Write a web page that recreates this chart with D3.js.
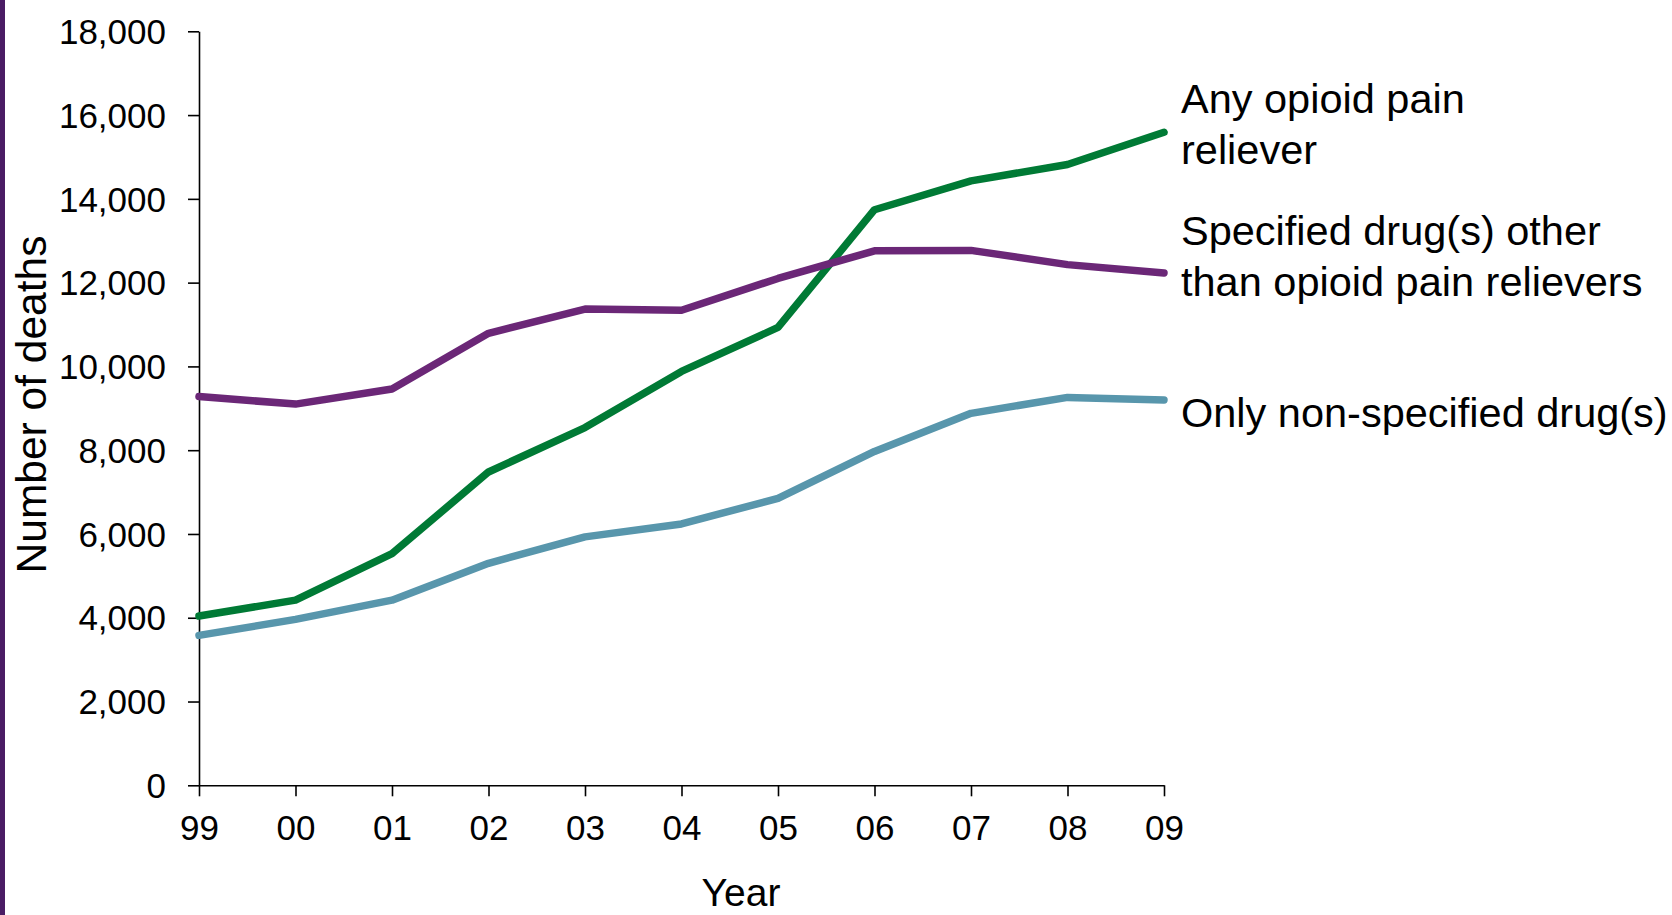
<!DOCTYPE html>
<html>
<head>
<meta charset="utf-8">
<script src="https://cdn.jsdelivr.net/npm/d3@7"></script>
<style>
  html, body { margin: 0; padding: 0; background: #fff; }
  svg { display: block; font-family: "Liberation Sans", Arial, sans-serif; }
</style>
</head>
<body>
<svg id="chart" width="1672" height="915"></svg>
<script>
// Drug overdose deaths by drug type, 1999–2009
const yearLabels = ["99", "00", "01", "02", "03", "04", "05", "06", "07", "08", "09"];
const opioidPainReliever = [4040, 4420, 5530, 7480, 8540, 9880, 10930, 13740, 14430, 14820, 15590];
const otherSpecifiedDrugs = [9280, 9100, 9460, 10790, 11370, 11340, 12100, 12760, 12770, 12430, 12230];
const nonSpecifiedOnly = [3580, 3960, 4420, 5300, 5930, 6240, 6850, 7970, 8880, 9260, 9200];
const yTicks = [0, 2000, 4000, 6000, 8000, 10000, 12000, 14000, 16000, 18000];

const seriesNames = [
  ["Any opioid pain", "reliever"],
  ["Specified drug(s) other", "than opioid pain relievers"],
  ["Only non-specified drug(s)"]
];
const seriesValues = [opioidPainReliever, otherSpecifiedDrugs, nonSpecifiedOnly];
const seriesColors = ["#007a35", "#6b2777", "#5896ac"];

const svg = d3.select("#chart");

// accent bar down the left edge
svg.append("rect").attr("x", 0).attr("y", 0).attr("width", 5).attr("height", 915)
  .attr("fill", "#4a1c64");

const x = d3.scalePoint().domain(yearLabels).range([199, 1164]);
const y = d3.scaleLinear().domain([0, 18000]).range([785.3, 31.3]);

// y axis
const yAxis = svg.append("g").attr("transform", "translate(199,0)")
  .call(d3.axisLeft(y).tickValues(yTicks).tickSize(11).tickSizeOuter(0)
    .tickFormat(d3.format(",")));
yAxis.select(".domain").attr("stroke", "#000").attr("stroke-width", 1.6);
yAxis.selectAll(".tick line").attr("stroke", "#000").attr("stroke-width", 1.6);
yAxis.selectAll(".tick text").attr("x", -33).attr("dy", "0.35em")
  .attr("font-size", 35).attr("fill", "#000")
  .attr("font-family", "'Liberation Sans', Arial, sans-serif");

// x axis
const xAxis = svg.append("g").attr("transform", "translate(0,785.3)")
  .call(d3.axisBottom(x).tickSize(11).tickSizeOuter(0));
xAxis.select(".domain").attr("stroke", "#000").attr("stroke-width", 1.6);
xAxis.selectAll(".tick line").attr("stroke", "#000").attr("stroke-width", 1.6);
xAxis.selectAll(".tick text").attr("y", 30).attr("dy", "0.71em")
  .attr("font-size", 35).attr("fill", "#000")
  .attr("font-family", "'Liberation Sans', Arial, sans-serif");

// axis titles
svg.append("text").attr("x", 741).attr("y", 906).attr("text-anchor", "middle")
  .attr("font-size", 39).attr("fill", "#000").text("Year");
svg.append("text").attr("transform", "translate(46,404.5) rotate(-90)")
  .attr("text-anchor", "middle").attr("font-size", 42.5).attr("fill", "#000")
  .text("Number of deaths");

// series lines
const line = d3.line().x((d, i) => x(yearLabels[i])).y(d => y(d));
seriesValues.forEach((vals, k) => {
  svg.append("path").datum(vals).attr("d", line)
    .attr("fill", "none").attr("stroke", seriesColors[k])
    .attr("stroke-width", 7.5).attr("stroke-linejoin", "round")
    .attr("stroke-linecap", "round");
});

// direct labels
const labelBaselines = [[113, 164], [245, 295.5], [427]];
seriesNames.forEach((lines, k) => {
  const t = svg.append("text").attr("font-size", 41.5).attr("fill", "#000");
  lines.forEach((s, j) => {
    t.append("tspan").attr("x", 1181).attr("y", labelBaselines[k][j]).text(s);
  });
});
</script>
</body>
</html>
